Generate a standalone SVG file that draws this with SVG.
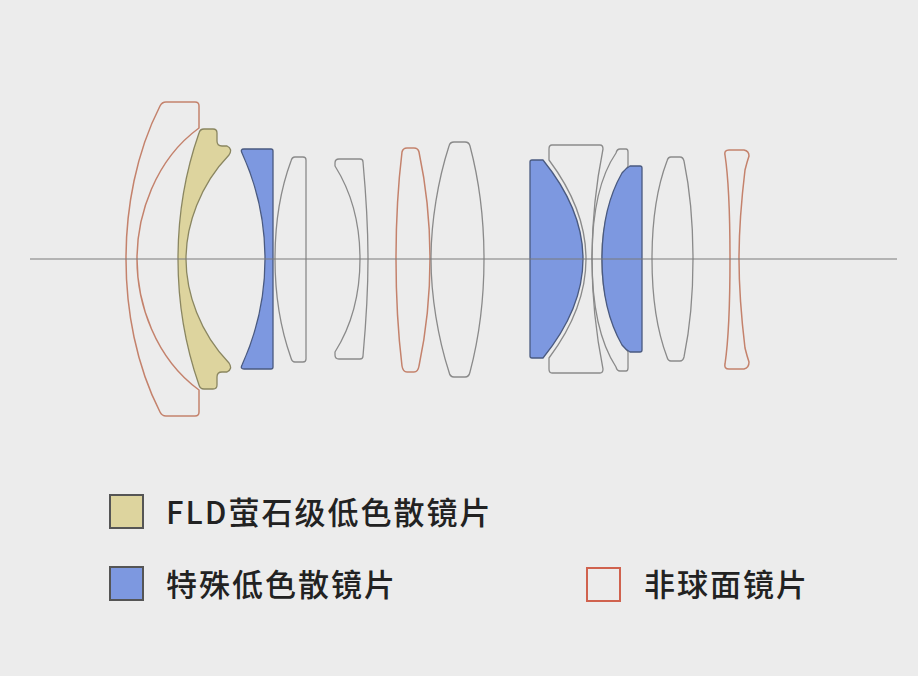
<svg xmlns="http://www.w3.org/2000/svg" width="918" height="676" viewBox="0 0 918 676">
<style>
.g{fill:none;stroke:#8a8a8a;stroke-width:1.3;stroke-linejoin:round}
.a{fill:none;stroke:#c4826c;stroke-width:1.5;stroke-linejoin:round}
.b{fill:#7d98e0;stroke:#4a5a80;stroke-width:1.3;stroke-linejoin:round}
.y{fill:#ddd49e;stroke:#8a8660;stroke-width:1.3;stroke-linejoin:round}
.t{font-family:"Noto Sans CJK SC","Noto Sans",sans-serif;font-size:31px;letter-spacing:2px;font-weight:500;fill:#222}
</style>
<rect width="918" height="676" fill="#ececec"/>
<g id="lens1"><path class="a" d="M166,102 L195,102 Q199,102 199,106 L199,128 C155,160 137,215 137,259 C137,303 155,358 199,390 L199,412 Q199,416 195,416 L166,416 Q162,416 160,412 C136,365 126,310 126,259 C126,208 136,153 160,106 Q162,102 166,102 Z"/></g>
<g id="lens2"><path class="y" d="M204,129 L213,129 Q217,129 217,133 L217,141 Q217,146 222,146 L227,146 Q233,149 229,155 C200,185 186,225 186,259 C186,293 200,333 229,363 Q233,369 227,372 L222,372 Q217,372 217,377 L217,385 Q217,389 213,389 L204,389 Q200,389 199,385 C185,345 178,300 178,259 C178,218 185,173 199,133 Q200,129 204,129 Z"/></g>
<g id="lens3"><path class="b" d="M244,149 L271,149 Q273,149 273,151 L273,367 Q273,369 271,369 L244,369 Q240,369 242,365 C258,330 265,295 265,259 C265,223 258,188 242,153 Q240,149 244,149 Z"/></g>
<g id="lens4"><path class="g" d="M295,157 L303,157 Q306,157 306,160 L306,359 Q306,362 303,362 L295,362 Q292,362 291,358 C281,330 275,295 275,259 C275,223 281,188 291,161 Q292,157 295,157 Z"/></g>
<g id="lens5"><path class="g" d="M339,159 L360,159 Q363,159 363,162 C366,195 368,230 368,259 C368,288 366,323 363,356 Q363,359 360,359 L339,359 Q335,359 335,355 L335,352 C352,325 360,292 360,259 C360,226 352,193 335,166 L335,163 Q335,159 339,159 Z"/></g>
<g id="lens6"><path class="a" d="M407,148 L414,148 Q418,148 419,152 C426,185 430,225 430,259 C430,293 426,333 419,366 Q418,372 414,372 L407,372 Q403,372 402,366 C398,333 396,293 396,259 C396,225 398,185 402,152 Q403,148 407,148 Z"/></g>
<g id="lens7"><path class="g" d="M454,142 L465,142 Q469,142 470,146 C479,180 484,222 484,259 C484,296 479,338 470,372 Q469,377 465,377 L454,377 Q450,377 449,372 C438,338 431,296 431,259 C431,222 438,180 449,146 Q450,142 454,142 Z"/></g>
<g id="lens9"><path class="g" d="M552,145 L600,145 Q603,145 603,149 Q581,259 603,369 Q603,373 600,373 L552,373 Q549,373 549,369 L549,358 Q623,259 549,160 L549,149 Q549,145 552,145 Z"/></g>
<g id="lens8"><path class="b" d="M532,160 L543,160 Q623,259 543,358 L532,358 Q530,358 530,356 L530,162 Q530,160 532,160 Z"/></g>
<g id="lens10"><path class="g" d="M620,149 L626,149 Q628,149 628,152 L628,166 Q601,210 602,259 Q601,308 628,352 L628,368 Q628,371 626,371 L620,371 Q617,371 616,367 Q592,330 592,259 Q592,188 616,153 Q617,149 620,149 Z"/></g>
<g id="lens11"><path class="b" d="M630,166 L640,166 Q642,166 642,168 L642,350 Q642,352 640,352 L630,352 Q626,350 622,345 Q602,310 602,259 Q602,208 622,173 Q626,168 630,166 Z"/></g>
<g id="lens12"><path class="g" d="M671,157 L680,157 Q683,157 684,161 C690,190 693,225 693,259 C693,293 690,328 684,357 Q683,361 680,361 L671,361 Q668,361 667,357 C656,328 652,293 652,259 C652,225 656,190 667,161 Q668,157 671,157 Z"/></g>
<g id="lens13"><path class="a" d="M729,150 L744,150 Q749,151 749,156 Q747,162 745,170 Q739,220 739,259 Q739,298 745,348 Q747,356 749,362 Q749,368 744,369 L729,369 Q724,369 725,364 Q730,330 730,259 Q730,188 725,155 Q724,150 729,150 Z"/></g>
<g id="connectors"><line x1="30" y1="259" x2="897" y2="259" stroke="#7a7a7a" stroke-width="1.2"/></g>
<g id="legend">
<rect x="110" y="495" width="33" height="33" fill="#ddd49e" stroke="#555" stroke-width="2"/>
<text class="t" x="166" y="524">FLD萤石级低色散镜片</text>
<rect x="110" y="567" width="33" height="33" fill="#7d98e0" stroke="#555" stroke-width="2"/>
<text class="t" x="166" y="596">特殊低色散镜片</text>
<rect x="587" y="568" width="33" height="33" fill="none" stroke="#d0624e" stroke-width="2"/>
<text class="t" x="644" y="596">非球面镜片</text>
</g>
</svg>
